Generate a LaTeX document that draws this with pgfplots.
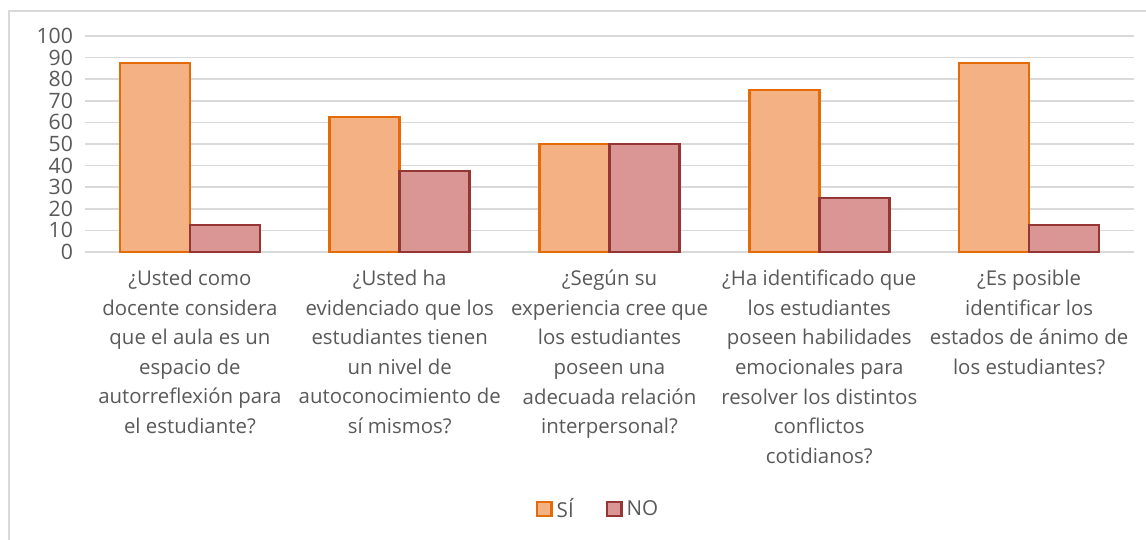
\documentclass[border=0pt]{standalone}
\usepackage{pgfplots}
\pgfplotsset{compat=1.18}
\usepackage{fontspec}
\setmainfont{Open Sans}
\definecolor{txt}{HTML}{595959}
\definecolor{gridc}{HTML}{D9D9D9}
\definecolor{siF}{HTML}{F4B183}
\definecolor{siE}{HTML}{E36C09}
\definecolor{noF}{HTML}{D99694}
\definecolor{noE}{HTML}{943634}
\begin{document}
\begin{tikzpicture}
\useasboundingbox (0,0) rectangle (573pt,270pt);
\draw[gridc, line width=0.6pt] (4.5pt,0) -- (4.5pt,264.5pt) -- (573pt,264.5pt);
\begin{axis}[
  at={(42.5pt,144pt)}, anchor=south west,
  width=524.5pt, height=108pt, scale only axis,
  xmin=-0.5, xmax=4.5, ymin=0, ymax=100,
  ybar, bar width=35pt,
  axis line style={draw=none},
  ytick={0,10,...,100},
  ymajorgrids, grid style={gridc, line width=0.8pt},
  major tick length=0pt,
  xtick={0,1,2,3,4},
  xticklabels={
    {¿Usted como\\docente considera\\que el aula es un\\espacio de\\autorreflexión para\\el estudiante?},
    {¿Usted ha\\evidenciado que los\\estudiantes tienen\\un nivel de\\autoconocimiento de\\sí mismos?},
    {¿Según su\\experiencia cree que\\los estudiantes\\poseen una\\adecuada relación\\interpersonal?},
    {¿Ha identificado que\\los estudiantes\\poseen habilidades\\emocionales para\\resolver los distintos\\conflictos\\cotidianos?},
    {¿Es posible\\identificar los\\estados de ánimo de\\los estudiantes?}},
  xticklabel style={align=center, font=\fontsize{10.2}{14.8}\selectfont, text=txt, anchor=north, yshift=-5.5pt},
  yticklabel style={font=\fontsize{10.6}{11}\selectfont, text=txt, xshift=-2.5pt},
  /pgf/number format/assume math mode=true,
  legend style={at={(0.49,-1.19)}, anchor=center, draw=none, legend columns=2,
    font=\fontsize{10.3}{11}\selectfont, text=txt, inner sep=1pt,
    /tikz/every odd column/.append style={column sep=0pt},
    /tikz/every even column/.append style={column sep=14pt},
    legend cell align=left},
  legend image code/.code={\draw[#1, line width=1.2pt] (0pt,-3.6pt) rectangle (7.2pt,3.6pt);},
  clip=false,
]
\addplot[fill=siF, draw=siE, line width=1.3pt, bar shift=-17.5pt] coordinates {(0,87.5) (1,62.5) (2,50) (3,75) (4,87.5)};
\addplot[fill=noF, draw=noE, line width=1.3pt, bar shift=17.5pt] coordinates {(0,12.5) (1,37.5) (2,50) (3,25) (4,12.5)};
\legend{SÍ, NO}
\end{axis}
\end{tikzpicture}
\end{document}
